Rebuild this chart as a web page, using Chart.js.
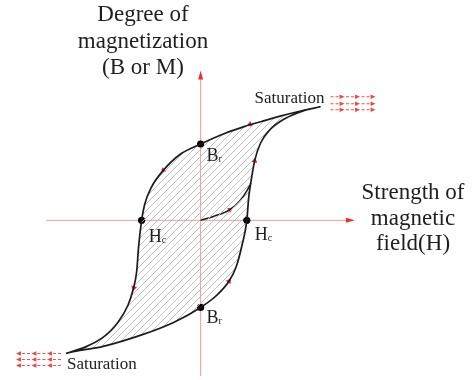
<!DOCTYPE html>
<html>
<head>
<meta charset="utf-8">
<script src="https://cdn.jsdelivr.net/npm/chart.js@4.4.0/dist/chart.umd.min.js"></script>
<style>
body{margin:0;background:#fff;}
</style>
</head>
<body>
<canvas id="myChart" width="472" height="380"></canvas>
<script>
// ciclo de histeresis: H en el eje x, B en el eje y
var ramaBajada = [
	{x:122,y:116},{x:103,y:112},{x:83,y:107},{x:62,y:101},{x:45,y:96},{x:25,y:89},
	{x:0,y:78},{x:-20,y:68},{x:-38,y:51},{x:-50,y:34},{x:-57,y:16},{x:-60,y:0},
	{x:-63,y:-26},{x:-65,y:-52},{x:-69,y:-72},{x:-74,y:-87},{x:-84,y:-104},
	{x:-100,y:-120},{x:-137,y:-136}
];
var ramaSubida = [
	{x:-137,y:-136},{x:-100,y:-129},{x:-60,y:-117},{x:-27,y:-104},{x:0,y:-89},
	{x:17,y:-76},{x:29,y:-62},{x:36,y:-48},{x:42,y:-26},{x:47,y:0},{x:49,y:24},
	{x:51,y:38},{x:55,y:61},{x:61,y:79},{x:70,y:92},{x:86,y:104},{x:105,y:112},
	{x:122,y:116}
];
var curvaInicial = [
	{x:0,y:0},{x:13,y:4},{x:30,y:11},{x:40,y:20},{x:47,y:30},{x:51,y:38}
];
// Br arriba, Hc izquierda, Hc derecha, Br abajo
var puntosClave = [{x:0,y:78},{x:-60,y:0},{x:47,y:0},{x:0,y:-89}];
var etiquetas = ['B','H','H','B'];
var subindices = ['r','c','c','r'];
// flechas rojas sobre la curva y su giro (grados)
var flechas = [{x:50,y:98},{x:-38,y:51},{x:-68,y:-69},{x:29,y:-62},{x:55,y:61},{x:30,y:11}];
var angulosFlechas = [-110,-139,-167,37,13,59];
var saturacion = [{x:122,y:116},{x:-137,y:-136}];

var lazo = ramaBajada.concat(ramaSubida.slice(1));
var myChart = document.getElementById('myChart');
var ctx = myChart.getContext('2d');

// rayado diagonal del area del ciclo
function rayado(){
	var c = document.createElement('canvas');
	c.width = 7; c.height = 7;
	var g = c.getContext('2d');
	g.strokeStyle = '#b8b8b8';
	g.lineWidth = 0.9;
	g.beginPath();
	g.moveTo(0,7); g.lineTo(7,0);
	g.moveTo(-1,1); g.lineTo(1,-1);
	g.moveTo(6,8); g.lineTo(8,6);
	g.stroke();
	return ctx.createPattern(c,'repeat');
}

function punta(g, x, y, dx, largo, ancho){
	g.beginPath();
	g.moveTo(x, y);
	g.lineTo(x - dx*largo, y - ancho);
	g.lineTo(x - dx*largo, y + ancho);
	g.closePath();
	g.fill();
}

var decoracion = {
	id:'decoracion',
	beforeDatasetsDraw:function(chart){
		var g = chart.ctx, sx = chart.scales.x, sy = chart.scales.y;
		var x0 = sx.getPixelForValue(0), y0 = sy.getPixelForValue(0);
		g.save();
		g.strokeStyle = 'rgba(238,70,70,0.55)';
		g.lineWidth = 1;
		g.beginPath();
		g.moveTo(sx.getPixelForValue(-157), y0);
		g.lineTo(sx.getPixelForValue(150), y0);
		g.moveTo(x0, sy.getPixelForValue(-159));
		g.lineTo(x0, sy.getPixelForValue(146));
		g.stroke();
		g.fillStyle = '#e8312c';
		// punta eje x
		punta(g, sx.getPixelForValue(157), y0, 1, 9, 2.5);
		// punta eje y
		var yt = sy.getPixelForValue(153);
		g.beginPath();
		g.moveTo(x0, yt);
		g.lineTo(x0 - 2.5, yt + 9);
		g.lineTo(x0 + 2.5, yt + 9);
		g.closePath();
		g.fill();
		g.restore();
	},
	afterDatasetsDraw:function(chart){
		var g = chart.ctx, sx = chart.scales.x, sy = chart.scales.y;
		g.save();
		g.fillStyle = '#1e1e1e';
		g.textAlign = 'center';
		g.textBaseline = 'alphabetic';
		g.font = '23px "Liberation Serif"';
		g.fillText('Degree of', 143, 21);
		g.fillText('magnetization', 143, 48);
		g.fillText('(B or M)', 143, 74);
		g.fillText('Strength of', 413, 199);
		g.fillText('magnetic', 413, 225);
		g.fillText('field(H)', 413, 250);

		g.font = '17px "Liberation Serif"';
		var ps = sx.getPixelForValue(saturacion[0].x), qs = sy.getPixelForValue(saturacion[0].y);
		g.fillText('Saturation', ps - 31, qs - 4);
		var pb = sx.getPixelForValue(saturacion[1].x), qb = sy.getPixelForValue(saturacion[1].y);
		g.textAlign = 'left';
		g.fillText('Saturation', pb + 1, qb + 16);

		// Br y Hc
		var offs = [[6,17],[7,22],[8,20],[6,16]];
		for (var i = 0; i < puntosClave.length; i++){
			var px = sx.getPixelForValue(puntosClave[i].x) + offs[i][0];
			var py = sy.getPixelForValue(puntosClave[i].y) + offs[i][1];
			g.font = '18px "Liberation Serif"';
			g.fillText(etiquetas[i], px, py);
			var w = g.measureText(etiquetas[i]).width;
			g.font = '10px "Liberation Serif"';
			g.fillText(subindices[i], px + w, py + 1);
		}

		// flechas discontinuas de saturacion
		g.strokeStyle = 'rgba(236,50,45,0.85)';
		g.fillStyle = 'rgba(236,50,45,0.9)';
		g.lineWidth = 1.1;
		g.setLineDash([3,2]);
		var filas = [-10,-3,3];
		for (var f = 0; f < 3; f++){
			for (var k = 0; k < 3; k++){
				var xa = ps + 10 + k*15.5, ya = qs + filas[f];
				g.beginPath(); g.moveTo(xa, ya); g.lineTo(xa + 9, ya); g.stroke();
				punta(g, xa + 14, ya, 1, 5, 2.2);
			}
		}
		var filas2 = [0,6,12];
		for (var f2 = 0; f2 < 3; f2++){
			for (var k2 = 0; k2 < 3; k2++){
				var xb = pb - 5 - k2*15.5, yb = qb + filas2[f2];
				g.beginPath(); g.moveTo(xb, yb); g.lineTo(xb - 9, yb); g.stroke();
				punta(g, xb - 14, yb, -1, 5, 2.2);
			}
		}
		g.restore();
	}
};

var grafica = new Chart(myChart, {
	type:'scatter',
	data:{
		datasets:[
		//ciclo completo
		{
			data:lazo,
			showLine:true,
			borderColor:'#1c1c1c',
			borderWidth:1.7,
			cubicInterpolationMode:'monotone',
			pointRadius:0,
			fill:'shape',
			backgroundColor:rayado()
		},
		//curva de primera imanacion
		{
			data:curvaInicial,
			showLine:true,
			borderColor:'#1c1c1c',
			borderWidth:1.5,
			cubicInterpolationMode:'monotone',
			pointRadius:0,
			fill:false
		},
		//flechas
		{
			data:flechas,
			pointStyle:'triangle',
			pointRotation:angulosFlechas,
			pointRadius:3.4,
			pointBackgroundColor:'#e8312c',
			pointBorderWidth:0
		},
		//Br y Hc
		{
			data:puntosClave,
			pointRadius:3.6,
			pointBackgroundColor:'#000',
			pointBorderWidth:0
		}
		]
	},
	options:{
		responsive:false,
		animation:false,
		layout:{padding:0},
		plugins:{legend:{display:false},tooltip:{enabled:false}},
		scales:{
			x:{type:'linear',min:-200,max:272,display:false},
			y:{type:'linear',min:-159,max:221,display:false}
		}
	},
	plugins:[decoracion]
});
</script>
</body>
</html>
